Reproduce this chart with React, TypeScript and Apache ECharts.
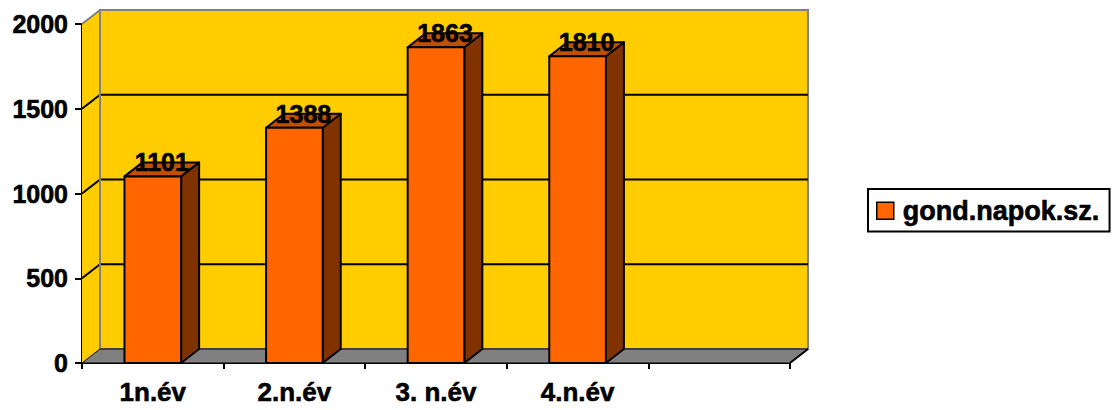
import React, { useEffect, useRef } from "react";
import * as echarts from "echarts";

const categories = ["1n.év", "2.n.év", "3. n.év", "4.n.év", ""];
const seriesName = "gond.napok.sz.";
const values = [1101, 1388, 1863, 1810];
const yTicks = [0, 500, 1000, 1500, 2000];
const yMax = 2000;
const yInterval = 500;

const DX = 18;
const DY = -14;
const FONT = '"Liberation Sans", Arial, Helvetica, sans-serif';
const THICK = { textBorderColor: "#000", textBorderWidth: 0.6 };

export default function App() {
  const ref = useRef<HTMLDivElement>(null);
  useEffect(() => {
    const chart = echarts.init(ref.current!, null, { renderer: "svg" });

    const walls = {
      type: "custom",
      name: "walls",
      silent: true,
      z: 1,
      clip: false,
      data: [[0, 0]],
      encode: { x: 0, y: 1 },
      renderItem: (params: any, api: any) => {
        const cs = params.coordSys;
        const x0 = cs.x;
        const x1 = cs.x + cs.width;
        const yT = cs.y;
        const yB = cs.y + cs.height;
        const children: any[] = [];
        children.push({
          type: "rect",
          shape: { x: x0 + DX, y: yT + DY, width: cs.width, height: cs.height },
          style: { fill: "#FFCC00", stroke: "#808080", lineWidth: 2 },
        });
        children.push({
          type: "polygon",
          shape: { points: [[x0, yT], [x0 + DX, yT + DY], [x0 + DX, yB + DY], [x0, yB]] },
          style: { fill: "#FFCC00", stroke: "none" },
        });
        yTicks.forEach((v) => {
          if (v === 0 || v === yMax) return;
          const y = api.coord([0, v])[1];
          children.push({
            type: "line",
            shape: { x1: x0 + DX, y1: y + DY, x2: x1 + DX, y2: y + DY },
            style: { stroke: "#000", lineWidth: 2 },
          });
          children.push({
            type: "line",
            shape: { x1: x0, y1: y, x2: x0 + DX, y2: y + DY },
            style: { stroke: "#000", lineWidth: 2 },
          });
        });
        children.push({
          type: "line",
          shape: { x1: x0 + DX, y1: yT + DY, x2: x0 + DX, y2: yB + DY },
          style: { stroke: "#808080", lineWidth: 2 },
        });
        children.push({
          type: "line",
          shape: { x1: x0, y1: yT, x2: x0 + DX, y2: yT + DY },
          style: { stroke: "#808080", lineWidth: 2 },
        });
        children.push({
          type: "polygon",
          shape: { points: [[x0, yB], [x1, yB], [x1 + DX, yB + DY], [x0 + DX, yB + DY]] },
          style: { fill: "#808080", stroke: "#000", lineWidth: 1 },
        });
        children.push({
          type: "line",
          shape: { x1: x1, y1: yB, x2: x1 + DX, y2: yB + DY },
          style: { stroke: "#000", lineWidth: 2 },
        });
        return { type: "group", children };
      },
    };

    const bars = {
      type: "custom",
      name: seriesName,
      z: 3,
      clip: false,
      itemStyle: { color: "#FF6600" },
      data: values.map((v, i) => [i, v]),
      encode: { x: 0, y: 1 },
      renderItem: (params: any, api: any) => {
        const i = api.value(0);
        const v = api.value(1);
        const top = api.coord([i, v]);
        const base = api.coord([i, 0]);
        const bw = api.size([1, 0])[0] * 0.4;
        const xl = top[0] - bw / 2;
        const xr = top[0] + bw / 2;
        const yt = top[1];
        const yb = base[1];
        const stroke = { stroke: "#000", lineWidth: 2, lineJoin: "round" };
        return {
          type: "group",
          children: [
            {
              type: "polygon",
              shape: { points: [[xr, yb], [xr + DX, yb + DY], [xr + DX, yt + DY], [xr, yt]] },
              style: { fill: "#803300", ...stroke },
            },
            {
              type: "polygon",
              shape: { points: [[xl, yt], [xr, yt], [xr + DX, yt + DY], [xl + DX, yt + DY]] },
              style: { fill: "#C04F00", ...stroke },
            },
            {
              type: "rect",
              shape: { x: xl, y: yt, width: bw, height: yb - yt },
              style: { fill: "#FF6600", ...stroke },
            },
            {
              type: "text",
              x: top[0] + DX / 2,
              y: yt + DY,
              style: {
                text: String(v),
                fill: "#000",
                stroke: "#000",
                lineWidth: 0.6,
                font: `bold 25px ${FONT}`,
                align: "center",
                verticalAlign: "middle",
              },
            },
          ],
        };
      },
    };

    const option = {
      animation: false,
      backgroundColor: "#ffffff",
      grid: { left: 82, right: 327, top: 24, bottom: 47 },
      legend: {
        data: [{ name: seriesName, icon: "rect" }],
        selectedMode: false,
        left: 868,
        top: 189,
        orient: "vertical",
        backgroundColor: "#ffffff",
        borderColor: "#000",
        borderWidth: 2,
        borderRadius: 0,
        padding: [8, 10, 7, 8],
        itemWidth: 17,
        itemHeight: 17,
        itemStyle: { color: "#FF6600", borderColor: "#000", borderWidth: 1.5 },
        textStyle: {
          fontFamily: FONT,
          fontWeight: "bold",
          fontSize: 27,
          color: "#000",
          padding: [0, 0, 0, 4],
          ...THICK,
        },
      },
      xAxis: {
        type: "category",
        data: categories,
        boundaryGap: true,
        axisLine: { show: true, lineStyle: { color: "#000", width: 2 } },
        axisTick: { show: true, length: 6, interval: 0, lineStyle: { color: "#000", width: 2 } },
        axisLabel: {
          interval: 0,
          margin: 16,
          fontFamily: FONT,
          fontWeight: "bold",
          fontSize: 26,
          color: "#000",
          ...THICK,
        },
        splitLine: { show: false },
      },
      yAxis: {
        type: "value",
        min: 0,
        max: yMax,
        interval: yInterval,
        axisLine: { show: true, lineStyle: { color: "#000", width: 2 } },
        axisTick: { show: true, length: 7, lineStyle: { color: "#000", width: 2 } },
        axisLabel: {
          margin: 14,
          formatter: (v: number) => String(v),
          fontFamily: FONT,
          fontWeight: "bold",
          fontSize: 25,
          color: "#000",
          ...THICK,
        },
        splitLine: { show: false },
      },
      series: [walls, bars],
    };
    chart.setOption(option as any);
    return () => chart.dispose();
  }, []);
  return (
    <div
      ref={ref}
      style={{ position: "fixed", left: 0, top: 0, width: 1117, height: 410 }}
    />
  );
}
